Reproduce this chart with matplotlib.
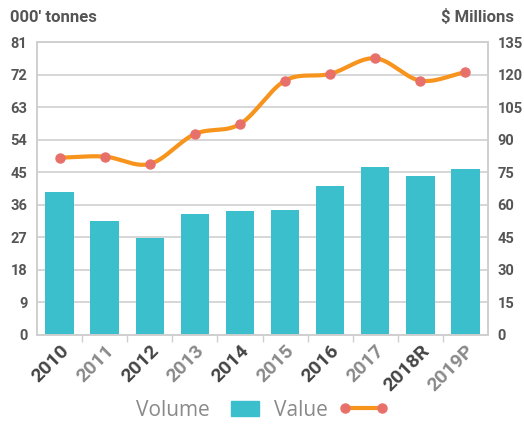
import numpy as np
import matplotlib.pyplot as plt
from matplotlib.lines import Line2D
from matplotlib.patches import Patch, Rectangle
from matplotlib.legend_handler import HandlerPatch

years = ['2010', '2011', '2012', '2013', '2014', '2015', '2016', '2017', '2018R', '2019P']
volume = [39.4, 31.5, 26.8, 33.5, 34.2, 34.5, 41.2, 46.5, 43.9, 45.9]   # 000' tonnes
value = [81.7, 82.2, 78.8, 92.6, 97.2, 117.2, 120.3, 127.5, 117.2, 121.1]  # $ Millions

bar_color = '#3BBFCD'
line_color = '#F7941D'
marker_color = '#E8706A'
grid_color = '#CFCFCF'
narrow = 'Roboto'


def smooth(xs, ys, n=30):
    # hermite curve through the points (drawing only)
    xs = np.asarray(xs, float)
    ys = np.asarray(ys, float)
    m = np.gradient(ys, xs)
    out_x, out_y = [], []
    for i in range(len(xs) - 1):
        t = np.linspace(0, 1, n)
        h = xs[i + 1] - xs[i]
        h00 = 2 * t**3 - 3 * t**2 + 1
        h10 = t**3 - 2 * t**2 + t
        h01 = -2 * t**3 + 3 * t**2
        h11 = t**3 - t**2
        out_x.append(xs[i] + t * h)
        out_y.append(h00 * ys[i] + h10 * h * m[i] + h01 * ys[i + 1] + h11 * h * m[i + 1])
    return np.concatenate(out_x), np.concatenate(out_y)


def small_box(legend, orig_handle, xdescent, ydescent, width, height, fontsize):
    w = width * 0.55
    return Rectangle((-xdescent + (width - w) / 2, -ydescent), w, height)


fig = plt.figure(figsize=(5.24, 4.24), dpi=100)
ax = fig.add_axes([37 / 524, 89 / 424, 451 / 524, 293 / 424])
ax2 = ax.twinx()

x = np.arange(len(years))
ax.bar(x, volume, width=0.63, color=bar_color, zorder=2)
ax.set_ylim(0, 81)
ax.set_yticks(np.arange(0, 82, 9))
ax.set_xlim(-0.5, len(years) - 0.5)
ax.grid(axis='y', color=grid_color, linewidth=1.2, zorder=0)
ax.set_axisbelow(True)

sx, sy = smooth(x, value)
ax2.plot(sx, sy, color=line_color, linewidth=3, zorder=3)
ax2.plot(x, value, 'o', color=marker_color, markersize=6.5, zorder=4)
ax2.set_ylim(0, 135)
ax2.set_yticks(np.arange(0, 136, 15))

tick_font = dict(family=narrow, weight='bold', size=10.5)
for a in (ax, ax2):
    for s in a.spines.values():
        s.set_color(grid_color)
        s.set_linewidth(1.2)
    a.tick_params(axis='y', length=0, colors='#555555', pad=7)
    for lbl in a.get_yticklabels():
        lbl.set_fontproperties(tick_font)
        lbl.set_color('#555555')

ax.set_xticks(x)
ax.set_xticklabels(years)
ax.set_xticks(x[:-1] + 0.5, minor=True)
ax.tick_params(axis='x', which='major', length=0, pad=5)
ax.tick_params(axis='x', which='minor', length=5, color=grid_color, width=1)
for i, lbl in enumerate(ax.get_xticklabels()):
    lbl.set_fontproperties(dict(family=narrow, weight='bold', size=14))
    lbl.set_rotation(45)
    lbl.set_ha('right')
    lbl.set_rotation_mode('anchor')
    lbl.set_color('#444444' if i % 2 == 0 else '#8A8A8A')

fig.text(10 / 524, 1 - 17 / 424, "000' tonnes", fontsize=12, weight='bold',
         family=narrow, color='#555555', va='center')
fig.text(514 / 524, 1 - 17 / 424, "$ Millions", fontsize=12, weight='bold',
         family=narrow, color='#555555', va='center', ha='right')

box = Patch(color=bar_color)
handles = [box,
           Line2D([0, 1], [0, 0], color=line_color, lw=3, marker='o',
                  markerfacecolor=marker_color, markeredgecolor=marker_color, markersize=6.5)]
fig.legend(handles, ['Volume', 'Value'], loc='center', bbox_to_anchor=(0.5, 1 - 410 / 424),
           ncol=2, frameon=False, markerfirst=False, labelcolor='#8A8A8A', numpoints=2,
           handlelength=2.4, handleheight=0.7, columnspacing=0.2, handletextpad=0.5,
           handler_map={box: HandlerPatch(patch_func=small_box)},
           prop={'family': 'Open Sans', 'size': 15})

fig.savefig('out.png', dpi=100)
